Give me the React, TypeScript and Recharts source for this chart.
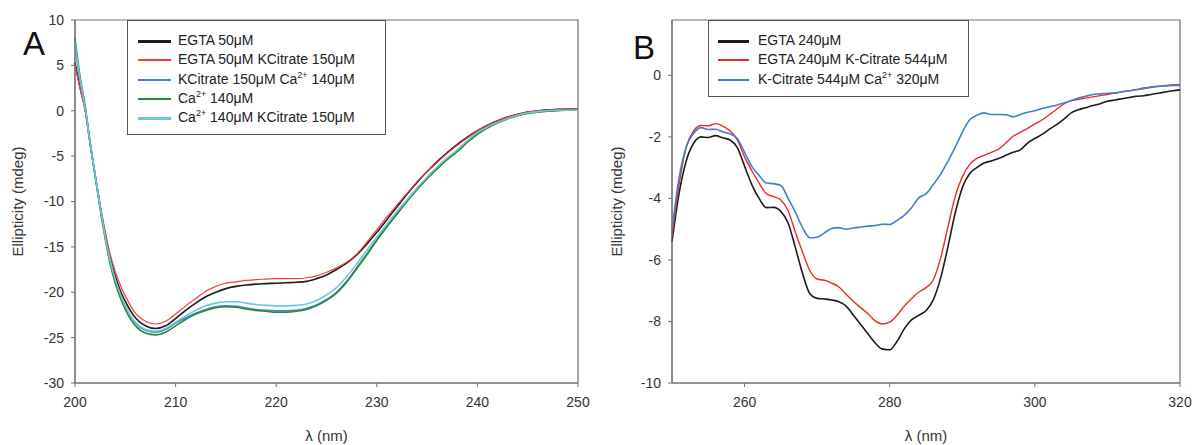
import { Label, Legend, Line, LineChart, ReferenceArea, XAxis, YAxis } from "recharts"

// Panel A: far-UV CD spectra (nm)
const nmA = [
  200, 200.5, 201, 201.5, 202, 202.5, 203, 203.5, 204, 204.5, 205, 206, 207, 208, 209, 210, 211, 212, 213, 214, 215,
  216, 217, 218, 219, 220, 221, 222, 223, 224, 225, 226, 227, 228, 229, 230, 231, 232, 233, 234, 235, 236, 237, 238,
  239, 240, 241, 242, 243, 244, 245, 246, 247, 248, 249, 250,
]
const egta50 = [
  5.3, 2.6, 0.2, -3.6, -7.1, -10.5, -13.6, -16.2, -18.2, -19.8, -21.0, -22.8, -23.7, -24.0, -23.7, -22.9, -22.0, -21.2,
  -20.5, -20.0, -19.6, -19.35, -19.2, -19.1, -19.05, -19.0, -18.95, -18.9, -18.8, -18.5, -18.1, -17.5, -16.8, -15.9,
  -14.7, -13.4, -12.0, -10.6, -9.2, -7.9, -6.7, -5.6, -4.6, -3.7, -2.9, -2.2, -1.6, -1.1, -0.7, -0.4, -0.15, 0.0, 0.1,
  0.15, 0.2, 0.2,
]
const egta50Citrate = [
  5.0, 2.4, 0.0, -3.6, -7.0, -10.3, -13.3, -15.8, -17.7, -19.2, -20.4, -22.3, -23.2, -23.5, -23.2, -22.4, -21.5, -20.7,
  -19.9, -19.35, -19.0, -18.85, -18.7, -18.6, -18.55, -18.5, -18.5, -18.5, -18.4, -18.2, -17.8, -17.3, -16.7, -15.8,
  -14.5, -13.1, -11.7, -10.4, -9.1, -7.8, -6.7, -5.7, -4.7, -3.8, -3.0, -2.2, -1.6, -1.1, -0.7, -0.4, -0.15, 0.0, 0.1,
  0.15, 0.2, 0.2,
]
const citrateCa = [
  7.2, 3.3, 0.4, -3.5, -7.1, -10.6, -13.9, -16.6, -18.7, -20.3, -21.6, -23.4, -24.2, -24.4, -24.1, -23.4, -22.8, -22.3,
  -21.9, -21.6, -21.5, -21.55, -21.75, -21.9, -22.0, -22.05, -22.05, -22.0, -21.8, -21.4, -20.8, -20.0, -18.8, -17.3,
  -15.8, -14.2, -12.7, -11.3, -9.9, -8.6, -7.4, -6.3, -5.3, -4.4, -3.4, -2.5, -1.8, -1.3, -0.85, -0.5, -0.25, -0.1, 0.0,
  0.05, 0.05, 0.05,
]
const ca140 = [
  8.0, 3.8, 0.6, -3.5, -7.2, -10.8, -14.1, -16.9, -19.0, -20.6, -21.9, -23.7, -24.5, -24.7, -24.4, -23.7, -23.0, -22.4,
  -22.0, -21.7, -21.6, -21.65, -21.85, -22.0, -22.1, -22.2, -22.2, -22.1, -21.9, -21.5, -20.9, -20.1, -18.9, -17.4,
  -15.9, -14.3, -12.8, -11.4, -10.0, -8.7, -7.5, -6.4, -5.4, -4.5, -3.5, -2.6, -1.9, -1.35, -0.9, -0.55, -0.3, -0.15,
  -0.05, 0.0, 0.05, 0.05,
]
const caCitrate = [
  7.5, 3.5, 0.4, -3.5, -7.1, -10.6, -13.9, -16.5, -18.6, -20.2, -21.5, -23.3, -24.1, -24.3, -24.0, -23.3, -22.6, -22.0,
  -21.5, -21.2, -21.05, -21.05, -21.2, -21.35, -21.45, -21.5, -21.5, -21.45, -21.3, -20.9, -20.3, -19.5, -18.3, -16.9,
  -15.4, -13.9, -12.5, -11.1, -9.8, -8.5, -7.3, -6.2, -5.2, -4.3, -3.3, -2.4, -1.8, -1.3, -0.85, -0.5, -0.25, -0.1, 0.0,
  0.05, 0.05, 0.05,
]

// Panel B: near-UV CD spectra (nm)
const nmB = [
  250, 251, 252, 253, 254, 255, 256, 257, 258, 259, 260, 261, 262, 263, 264, 265, 266, 267, 268, 269, 270, 271, 272,
  273, 274, 275, 276, 277, 278, 279, 280, 281, 282, 283, 284, 285, 286, 287, 288, 289, 290, 291, 292, 293, 294, 295,
  296, 297, 298, 299, 300, 301, 302, 303, 304, 305, 306, 307, 308, 309, 310, 311, 312, 313, 314, 315, 316, 317, 318,
  319, 320,
]
const egta240 = [
  -5.4, -3.8, -2.75, -2.2, -2.0, -2.02, -1.96, -2.03, -2.1, -2.35, -2.95, -3.55, -4.0, -4.3, -4.29, -4.42, -4.8, -5.6,
  -6.45, -7.1, -7.25, -7.27, -7.3, -7.36, -7.5, -7.8, -8.1, -8.4, -8.7, -8.9, -8.92, -8.65, -8.24, -7.95, -7.8, -7.65,
  -7.3, -6.6, -5.6, -4.5, -3.65, -3.2, -3.0, -2.85, -2.78, -2.7, -2.6, -2.5, -2.42, -2.2, -2.05, -1.92, -1.75, -1.6,
  -1.42, -1.22, -1.12, -1.05, -0.98, -0.92, -0.84, -0.8, -0.76, -0.72, -0.68, -0.66, -0.62, -0.58, -0.54, -0.5, -0.47,
]
const egta240Citrate = [
  -5.2, -3.5, -2.3, -1.8, -1.63, -1.64, -1.57, -1.65, -1.8, -2.1, -2.65, -3.1, -3.5, -3.85, -3.94, -4.05, -4.4, -5.1,
  -5.75, -6.35, -6.62, -6.66, -6.75, -6.88, -7.12, -7.35, -7.55, -7.75, -7.98, -8.08, -8.02, -7.8, -7.5, -7.26, -7.05,
  -6.9, -6.65, -5.95, -4.95, -3.95, -3.3, -2.9, -2.7, -2.6, -2.5, -2.4, -2.2, -1.98, -1.85, -1.72, -1.58, -1.45, -1.28,
  -1.1, -0.93, -0.82, -0.78, -0.74, -0.7, -0.66, -0.62, -0.58, -0.54, -0.5, -0.46, -0.41, -0.38, -0.35, -0.33, -0.3,
  -0.3,
]
const citrate544Ca = [
  -5.0, -3.3, -2.3, -1.88, -1.7, -1.76, -1.75, -1.84, -1.9, -2.05, -2.5, -2.96, -3.25, -3.5, -3.52, -3.58, -4.0, -4.45,
  -4.95, -5.28, -5.26, -5.12, -4.98, -4.95, -5.0, -4.96, -4.93, -4.9, -4.88, -4.84, -4.85, -4.72, -4.55, -4.3, -3.98,
  -3.85, -3.55, -3.22, -2.8, -2.35, -1.85, -1.45, -1.3, -1.22, -1.27, -1.27, -1.28, -1.35, -1.27, -1.2, -1.15, -1.08,
  -1.02, -0.97, -0.9, -0.82, -0.74, -0.68, -0.62, -0.6, -0.58, -0.57, -0.53, -0.5, -0.47, -0.43, -0.39, -0.36, -0.34,
  -0.33, -0.33,
]

const xTicksA = [200, 210, 220, 230, 240, 250]
const yTicksA = [10, 5, 0, -5, -10, -15, -20, -25, -30]
const xTicksB = [260, 280, 300, 320]
const yTicksB = [0, -2, -4, -6, -8, -10]

const seriesA = [
  { key: "egta50", name: "EGTA 50μM", color: "#1c1c1c", width: 1.6 },
  { key: "egta50Citrate", name: "EGTA 50μM KCitrate 150μM", color: "#f0403a", width: 1.2 },
  { key: "citrateCa", name: "KCitrate 150μM Ca2+ 140μM", color: "#4a7fd0", width: 1.6 },
  { key: "ca140", name: "Ca2+ 140μM", color: "#2a8a35", width: 1.6 },
  { key: "caCitrate", name: "Ca2+ 140μM KCitrate 150μM", color: "#6cc6dc", width: 1.6 },
]
const seriesB = [
  { key: "egta240", name: "EGTA 240μM", color: "#1c1c1c", width: 1.6 },
  { key: "egta240Citrate", name: "EGTA 240μM K-Citrate 544μM", color: "#ee2a25", width: 1.4 },
  { key: "citrate544Ca", name: "K-Citrate 544μM Ca2+ 320μM", color: "#3f7fd0", width: 1.6 },
]

const dataA = nmA.map((nm, i) => ({
  nm,
  egta50: egta50[i],
  egta50Citrate: egta50Citrate[i],
  citrateCa: citrateCa[i],
  ca140: ca140[i],
  caCitrate: caCitrate[i],
}))
const dataB = nmB.map((nm, i) => ({
  nm,
  egta240: egta240[i],
  egta240Citrate: egta240Citrate[i],
  citrate544Ca: citrate544Ca[i],
}))

const font = "'Liberation Sans', Arial, sans-serif"
const axisColor = "#707070"
const tickStyle = { fontSize: 14, fill: "#333", fontFamily: font }

function withSup(text: string) {
  const parts = text.split("2+")
  return parts.map((p, i) => (
    <span key={i}>
      {p}
      {i < parts.length - 1 && <sup style={{ fontSize: 9, lineHeight: 0 }}>2+</sup>}
    </span>
  ))
}

function LegendBox({ items, lineLeft, lineWidth, textLeft }: any) {
  return (
    <div
      style={{
        border: "1px solid #555",
        background: "#fff",
        boxSizing: "border-box",
        width: "100%",
        height: "100%",
        paddingTop: 10,
        fontFamily: font,
        fontSize: 14,
        color: "#222",
      }}
    >
      {items.map((s: any) => (
        <div key={s.key} style={{ position: "relative", height: 19.3, lineHeight: "19.3px" }}>
          <div
            style={{
              position: "absolute",
              left: lineLeft,
              top: 9,
              width: lineWidth,
              height: s.width > 1.5 ? 2.5 : 1.5,
              background: s.color,
            }}
          />
          <div style={{ position: "absolute", left: textLeft, top: 0, whiteSpace: "nowrap" }}>{withSup(s.name)}</div>
        </div>
      ))}
    </div>
  )
}

export default function App() {
  return (
    <div style={{ position: "absolute", left: 0, top: 0, width: 1192, height: 445, background: "#fff", fontFamily: font }}>
      <div style={{ position: "absolute", left: 0, top: 0 }}>
        <LineChart width={600} height={445} data={dataA} margin={{ top: 20, right: 22, bottom: 0, left: 0 }}>
          <ReferenceArea x1={200} x2={250} y1={-30} y2={10} fill="none" stroke={axisColor} strokeWidth={1.2} />
          <XAxis
            dataKey="nm"
            type="number"
            domain={[200, 250]}
            ticks={xTicksA}
            height={62}
            stroke={axisColor}
            tick={tickStyle}
            tickSize={4}
            tickMargin={10}
          >
            <Label value="λ (nm)" position="insideBottom" offset={4} style={{ fontSize: 15, fill: "#333", fontFamily: font }} />
          </XAxis>
          <YAxis
            type="number"
            domain={[-30, 10]}
            ticks={yTicksA}
            width={75}
            stroke={axisColor}
            tick={tickStyle}
            tickSize={4}
            tickMargin={7}
            allowDataOverflow
          >
            <Label
              value="Ellipticity (mdeg)"
              angle={-90}
              position="insideLeft"
              offset={18}
              style={{ fontSize: 15, fill: "#333", fontFamily: font, textAnchor: "middle" }}
            />
            <Label
              content={() => (
                <text x={23} y={55} fontSize={33} fill="#111" fontFamily={font}>
                  A
                </text>
              )}
            />
          </YAxis>
          {seriesA.map((s) => (
            <Line
              key={s.key}
              type="monotone"
              dataKey={s.key}
              name={s.name}
              stroke={s.color}
              strokeWidth={s.width}
              dot={false}
              isAnimationActive={false}
            />
          ))}
          <Legend
            layout="vertical"
            align="center"
            verticalAlign="middle"
            wrapperStyle={{ left: 127, top: 20, width: 259, height: 115 }}
            content={() => <LegendBox items={seriesA} lineLeft={10} lineWidth={33} textLeft={50} />}
          />
        </LineChart>
      </div>
      <div style={{ position: "absolute", left: 600, top: 0 }}>
        <LineChart width={592} height={445} data={dataB} margin={{ top: 20, right: 12, bottom: 0, left: 0 }}>
          <ReferenceArea x1={250} x2={320} y1={-10} y2={1.8} fill="none" stroke={axisColor} strokeWidth={1.2} />
          <XAxis
            dataKey="nm"
            type="number"
            domain={[250, 320]}
            ticks={xTicksB}
            height={62}
            stroke={axisColor}
            tick={tickStyle}
            tickSize={4}
            tickMargin={10}
          >
            <Label value="λ (nm)" position="insideBottom" offset={4} style={{ fontSize: 15, fill: "#333", fontFamily: font }} />
          </XAxis>
          <YAxis
            type="number"
            domain={[-10, 1.8]}
            ticks={yTicksB}
            width={72}
            stroke={axisColor}
            tick={tickStyle}
            tickSize={4}
            tickMargin={7}
            allowDataOverflow
          >
            <Label
              value="Ellipticity (mdeg)"
              angle={-90}
              position="insideLeft"
              offset={17}
              style={{ fontSize: 15, fill: "#333", fontFamily: font, textAnchor: "middle" }}
            />
            <Label
              content={() => (
                <text x={33} y={59} fontSize={33} fill="#111" fontFamily={font}>
                  B
                </text>
              )}
            />
          </YAxis>
          {seriesB.map((s) => (
            <Line
              key={s.key}
              type="monotone"
              dataKey={s.key}
              name={s.name}
              stroke={s.color}
              strokeWidth={s.width}
              dot={false}
              isAnimationActive={false}
            />
          ))}
          <Legend
            layout="vertical"
            align="center"
            verticalAlign="middle"
            wrapperStyle={{ left: 108, top: 20, width: 261, height: 77 }}
            content={() => <LegendBox items={seriesB} lineLeft={9} lineWidth={31} textLeft={49} />}
          />
        </LineChart>
      </div>
    </div>
  )
}
